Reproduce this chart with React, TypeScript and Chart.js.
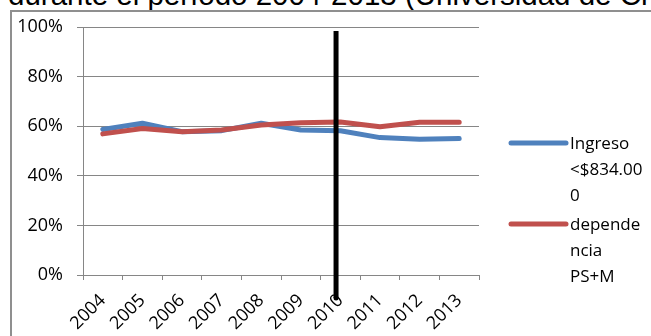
import React, { useEffect, useRef } from "react";
import { Chart, registerables } from "chart.js";

Chart.register(...registerables);

const years = ["2004", "2005", "2006", "2007", "2008", "2009", "2010", "2011", "2012", "2013"];
const ingreso = [58.7, 61.2, 57.8, 58.2, 61.2, 58.5, 58.2, 55.4, 54.7, 55.0];
const dependencia = [56.9, 59.1, 57.8, 58.5, 60.5, 61.4, 61.7, 59.8, 61.6, 61.6];
const yTicks = [0, 20, 40, 60, 80, 100];
const ingresoLegend = ["Ingreso", "<$834.00", "0"];
const dependenciaLegend = ["depende", "ncia", "PS+M"];
const titleText = "durante el período 2004-2013 (Universidad de Chile)";

// annotation: vertical marker near 2010 (category index, value range)
const markerIndex = 5.89;
const markerTop = 98.4;
const markerBottom = -9.3;

const BLUE = "#4F81BD";
const RED = "#C0504D";
const GRID = "#868686";
const FONT = "'Open Sans', sans-serif";

export default function App() {
  const canvasRef = useRef<HTMLCanvasElement | null>(null);

  useEffect(() => {
    const canvas = canvasRef.current;
    if (!canvas) return;

    const legendPlugin = {
      id: "customLegend",
      afterDraw(chart: any) {
        const { ctx, chartArea } = chart;
        const entries = [
          { color: BLUE, lines: ingresoLegend },
          { color: RED, lines: dependenciaLegend },
        ];
        const lineX0 = chartArea.right + 32;
        const lineX1 = chartArea.right + 87;
        const textX = chartArea.right + 91;
        const spacing = 26;
        let y = chartArea.top + 116;
        ctx.save();
        ctx.font = `17px ${FONT}`;
        ctx.fillStyle = "#000";
        ctx.textBaseline = "middle";
        ctx.textAlign = "left";
        for (const e of entries) {
          ctx.strokeStyle = e.color;
          ctx.lineWidth = 5;
          ctx.lineCap = "round";
          ctx.beginPath();
          ctx.moveTo(lineX0, y);
          ctx.lineTo(lineX1, y);
          ctx.stroke();
          e.lines.forEach((t, i) => {
            ctx.fillText(t, textX, y + 1 + i * spacing);
          });
          y += e.lines.length * spacing + 3;
        }
        ctx.restore();
      },
    };

    const markerPlugin = {
      id: "marker",
      afterDraw(chart: any) {
        const { ctx } = chart;
        const xs = chart.scales.x;
        const ys = chart.scales.y;
        const x = xs.getPixelForValue(markerIndex);
        ctx.save();
        ctx.strokeStyle = "#000";
        ctx.lineWidth = 5;
        ctx.lineCap = "butt";
        ctx.beginPath();
        ctx.moveTo(x, ys.getPixelForValue(markerTop));
        ctx.lineTo(x, ys.getPixelForValue(markerBottom));
        ctx.stroke();
        ctx.beginPath();
        ctx.fillStyle = "#000";
        ctx.arc(x, ys.getPixelForValue(markerBottom), 2.5, 0, Math.PI * 2);
        ctx.fill();
        ctx.restore();
      },
    };

    const chart = new Chart(canvas, {
      type: "line",
      data: {
        labels: years,
        datasets: [
          {
            label: ingresoLegend.join(""),
            data: ingreso,
            borderColor: BLUE,
            backgroundColor: BLUE,
            borderWidth: 5,
            pointRadius: 0,
            tension: 0,
            borderCapStyle: "round",
            borderJoinStyle: "round",
            order: 1,
          },
          {
            label: dependenciaLegend.join(""),
            data: dependencia,
            borderColor: RED,
            backgroundColor: RED,
            borderWidth: 5,
            pointRadius: 0,
            tension: 0,
            borderCapStyle: "round",
            borderJoinStyle: "round",
            order: 0,
          },
        ],
      },
      options: {
        responsive: false,
        maintainAspectRatio: false,
        animation: false,
        layout: { padding: { left: 0, right: 172, top: 27, bottom: 0 } },
        plugins: {
          legend: { display: false },
          tooltip: { enabled: false },
          title: { display: false },
        },
        scales: {
          x: {
            type: "category",
            offset: true,
            grid: {
              display: true,
              drawOnChartArea: false,
              drawTicks: true,
              tickLength: 5,
              color: GRID,
              offset: true,
            },
            border: { color: GRID, width: 1 },
            ticks: {
              minRotation: 45,
              maxRotation: 45,
              autoSkip: false,
              color: "#000",
              font: { family: FONT, size: 18 },
              padding: 10,
            },
            afterFit: (s: any) => {
              s.height = 61;
            },
          },
          y: {
            min: 0,
            max: 100,
            afterBuildTicks: (s: any) => {
              s.ticks = yTicks.map((v) => ({ value: v }));
            },
            ticks: {
              color: "#000",
              font: { family: FONT, size: 18 },
              padding: 14,
              callback: (v: any) => `${v}%`,
            },
            grid: { color: GRID, tickLength: 6 },
            border: { color: GRID, width: 1 },
            afterFit: (s: any) => {
              s.width = 83;
            },
          },
        },
      },
      plugins: [legendPlugin, markerPlugin],
    });

    return () => chart.destroy();
  }, []);

  return (
    <div
      style={{
        position: "fixed",
        left: 0,
        top: 0,
        width: 651,
        height: 336,
        overflow: "hidden",
        background: "#fff",
      }}
    >
      <div
        style={{
          position: "absolute",
          left: 8,
          top: -20.5,
          fontFamily: "'Liberation Sans', Arial, sans-serif",
          fontSize: 29.5,
          lineHeight: "30px",
          whiteSpace: "nowrap",
          color: "#000",
        }}
      >
        {titleText}
      </div>
      <div
        style={{
          position: "absolute",
          left: 10,
          top: 10,
          width: 700,
          height: 400,
          borderLeft: "2px solid #8f8f8f",
          borderTop: "2px solid #8f8f8f",
          background: "#fff",
        }}
      />
      <canvas
        ref={canvasRef}
        width={651}
        height={336}
        style={{ position: "absolute", left: 0, top: 0, width: 651, height: 336 }}
      />
    </div>
  );
}
